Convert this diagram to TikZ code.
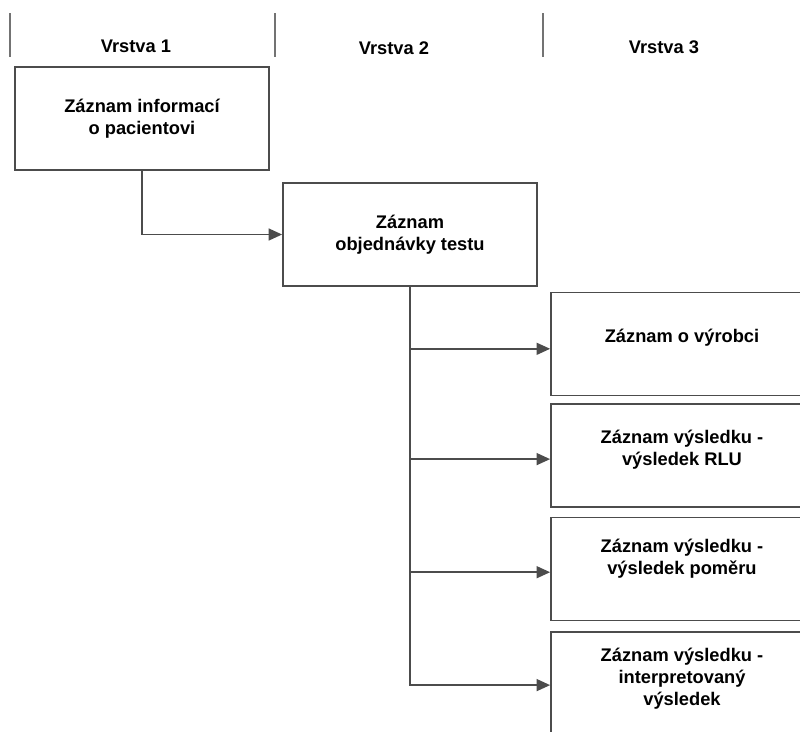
\documentclass[tikz,border=0pt]{standalone}
\usepackage{fontspec}
\setmainfont{Liberation Sans}
\usetikzlibrary{arrows.meta}
\begin{document}
\begin{tikzpicture}[x=0.025cm, y=-0.025cm,
  font=\fontsize{13}{15.6}\selectfont\bfseries,
  record/.style={draw=black!70, line width=1.2pt, fill=white, align=center,
    minimum width=6.35cm, minimum height=2.575cm, inner sep=0pt},
  layer/.style={draw=black!55, line width=1.2pt},
  link/.style={draw=black!70, line width=1.2pt, -{Triangle[length=3.4mm, width=3mm]}}]
\useasboundingbox (0,0) rectangle (800,731);
\clip (0,0) rectangle (800,731);
% layer headings
\draw[layer] (10,13) -- (10,57);
\draw[layer] (275,13) -- (275,57);
\draw[layer] (543,13) -- (543,57);
\node (vrstva1) at (136,46) {Vrstva 1};
\node (vrstva2) at (394,48) {Vrstva 2};
\node (vrstva3) at (664,47) {Vrstva 3};
% records
\node[record] (pacient) at (142,118.5) {Záznam informací\\o pacientovi};
\node[record] (objednavka) at (410,234.5) {Záznam\\objednávky testu};
\node[record, minimum width=6.55cm, text depth=0.4cm] (vyrobce) at (682,344) {Záznam o výrobci};
\node[record, minimum width=6.55cm, text depth=0.38cm] (rlu) at (682,455.5) {Záznam výsledku -\\výsledek RLU};
\node[record, minimum width=6.55cm, text depth=0.6cm] (pomer) at (682,569) {Záznam výsledku -\\výsledek poměru};
\node[record, minimum width=6.55cm, text depth=0.35cm] (interpretace) at (682,683.5) {Záznam výsledku -\\interpretovaný\\výsledek};
% connectors
\draw[link] (pacient.south) |- (objednavka.west);
\draw[link] (objednavka.south) |- ([yshift=-0.12cm]vyrobce.west);
\draw[link] (objednavka.south) |- ([yshift=-0.09cm]rlu.west);
\draw[link] (objednavka.south) |- ([yshift=-0.08cm]pomer.west);
\draw[link] (objednavka.south) |- ([yshift=-0.04cm]interpretace.west);
\end{tikzpicture}
\end{document}
